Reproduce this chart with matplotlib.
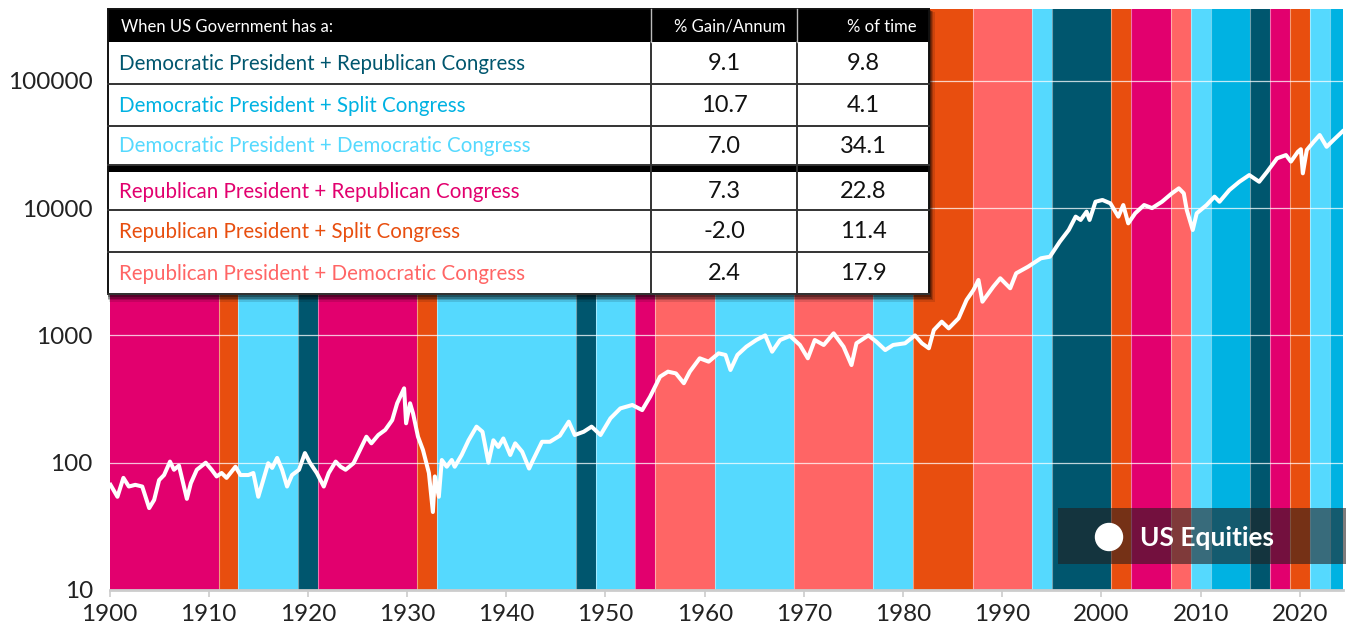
import matplotlib.pyplot as plt
from matplotlib.patches import Rectangle, Circle
from matplotlib.ticker import NullLocator

plt.rcParams['font.family'] = ['Lato', 'DejaVu Sans']

# Government composition by term start (President + Congress)
term_start = [1900, 1911, 1913, 1919, 1921, 1931, 1933, 1947, 1949, 1953, 1955, 1961,
              1969, 1977, 1981, 1987, 1993, 1995, 2001, 2003, 2007, 2009, 2011, 2015,
              2017, 2019, 2021, 2023]
term_type = ['RR', 'RS', 'DD', 'DR', 'RR', 'RS', 'DD', 'DR', 'DD', 'RR', 'RD', 'DD',
             'RD', 'DD', 'RS', 'RD', 'DD', 'DR', 'RS', 'RR', 'RD', 'DD', 'DS', 'DR',
             'RR', 'RS', 'DD', 'DS']
last_year = 2025

band_colors = {'DR': '#00566e', 'DS': '#00b2e2', 'DD': '#55d9fe',
               'RR': '#e2006e', 'RS': '#e84e0f', 'RD': '#ff6565'}

# summary table
table_keys = ['DR', 'DS', 'DD', 'RR', 'RS', 'RD']
table_labels = ['Democratic President + Republican Congress',
                'Democratic President + Split Congress',
                'Democratic President + Democratic Congress',
                'Republican President + Republican Congress',
                'Republican President + Split Congress',
                'Republican President + Democratic Congress']
gain_pa = ['9.1', '10.7', '7.0', '7.3', '-2.0', '2.4']
pct_time = ['9.8', '4.1', '34.1', '22.8', '11.4', '17.9']

# US equities index
eq_year = [1900.1, 1900.8, 1901.4, 1901.95, 1902.6, 1903.3, 1904.0, 1904.5, 1905.0, 1905.5,
           1906.1, 1906.5, 1907.0, 1907.8, 1908.2, 1908.8, 1909.7, 1910.3, 1910.8, 1911.3,
           1911.8, 1912.7, 1913.2, 1914.0, 1914.5, 1915.0, 1915.5, 1916.0, 1916.4, 1916.9,
           1917.4, 1917.9, 1918.4, 1919.1, 1919.7, 1920.2, 1920.9, 1921.6, 1922.1, 1922.8,
           1923.3, 1923.8, 1924.6, 1925.1, 1925.9, 1926.4, 1927.1, 1927.8, 1928.5, 1929.0,
           1929.7, 1929.9, 1930.3, 1930.6, 1931.1, 1931.6, 1932.2, 1932.6, 1932.8, 1933.2,
           1933.5, 1934.0, 1934.5, 1934.8, 1935.5, 1936.2, 1937.0, 1937.6, 1938.2, 1938.7,
           1939.2, 1939.7, 1940.4, 1940.9, 1941.6, 1942.3, 1942.7, 1943.6, 1944.4, 1945.4,
           1946.3, 1946.9, 1947.8, 1948.6, 1949.5, 1950.5, 1951.5, 1952.7, 1953.7, 1954.5,
           1955.5, 1956.3, 1957.1, 1957.9, 1958.5, 1959.5, 1960.4, 1961.4, 1962.1, 1962.6,
           1963.3, 1964.2, 1965.2, 1966.1, 1966.8, 1967.6, 1968.6, 1969.6, 1970.4, 1971.1,
           1972.0, 1973.0, 1974.0, 1974.8, 1975.3, 1976.5, 1977.3, 1978.2, 1979.0, 1980.2,
           1981.2, 1981.9, 1982.6, 1983.1, 1983.9, 1984.6, 1985.6, 1986.4, 1987.1, 1987.6,
           1988.0, 1989.1, 1989.8, 1990.8, 1991.4, 1992.6, 1993.9, 1994.8, 1995.8, 1996.7,
           1997.4, 1997.9, 1998.5, 1998.8, 1999.4, 2000.1, 2000.9, 2001.7, 2002.2, 2002.7,
           2003.4, 2004.3, 2005.1, 2006.1, 2007.1, 2007.8, 2008.3, 2008.6, 2009.2, 2009.6,
           2010.6, 2011.4, 2011.9, 2012.9, 2013.9, 2014.9, 2015.9, 2016.7, 2017.7, 2018.6,
           2019.1, 2019.8, 2020.1, 2020.3, 2020.7, 2021.4, 2022.0, 2022.7, 2023.4, 2024.1,
           2024.3]
eq_value = [67, 54, 76, 65, 67, 65, 44, 51, 73, 80,
            102, 88, 95, 52, 69, 88, 100, 88, 78, 83,
            76, 93, 80, 80, 83, 54, 73, 99, 91, 109,
            88, 65, 80, 88, 119, 100, 83, 65, 83, 102,
            93, 88, 99, 119, 160, 142, 165, 181, 216, 293,
            384, 204, 293, 244, 160, 126, 83, 41, 78, 54,
            105, 93, 105, 93, 115, 150, 192, 175, 100, 150,
            133, 155, 115, 142, 122, 90, 105, 146, 146, 163,
            210, 165, 175, 192, 165, 223, 267, 284, 259, 330,
            474, 519, 503, 421, 519, 661, 622, 723, 702, 535,
            702, 815, 920, 1000, 745, 920, 990, 841, 661, 920,
            841, 1038, 815, 585, 867, 1000, 893, 767, 841, 867,
            1000, 867, 792, 1101, 1281, 1136, 1363, 1897, 2275, 2725,
            1840, 2415, 2810, 2345, 3075, 3465, 4035, 4150, 5445, 6730,
            8570, 8070, 9380, 8070, 11220, 11580, 10900, 8570, 10570, 7590,
            9100, 10570, 10000, 11220, 13060, 14300, 13060, 9660, 6730, 9100,
            10570, 12300, 11220, 13870, 16100, 18180, 16100, 19300, 24600, 26100,
            23200, 27700, 29000, 18760, 28600, 33250, 37500, 30300, 34300, 38600,
            40000]

W, H = 1346, 630
fig = plt.figure(figsize=(W / 100, H / 100), dpi=100)
ax = fig.add_axes([109.5 / W, 1 - 590 / H, (1343 - 109.5) / W, (590 - 9) / H])

# coloured bands
term_end = term_start[1:] + [last_year]
for s, e, k in zip(term_start, term_end, term_type):
    ax.axvspan(s, e, color=band_colors[k], lw=0, zorder=0)
for s in term_start[1:]:
    ax.axvline(s, color='white', lw=0.8, alpha=0.45, zorder=1)

ax.plot(eq_year, eq_value, color='white', lw=2.9, solid_joinstyle='round', zorder=3)

ax.set_yscale('log')
ax.set_xlim(1900, 2024.35)
ax.set_ylim(10, 10 ** (1 + 581 / 127.3))
ax.set_yticks([10, 100, 1000, 10000, 100000])
ax.set_yticklabels(['10', '100', '1000', '10000', '100000'])
ax.yaxis.set_minor_locator(NullLocator())
ax.set_xticks(range(1900, 2021, 10))
ax.grid(axis='y', color='white', lw=0.9, alpha=0.75)

ax.tick_params(axis='y', length=0, pad=12, labelsize=17.5, labelcolor='#222222')
ax.tick_params(axis='x', length=5, width=1.2, color='#cccccc', pad=5,
               labelsize=17.5, labelcolor='#222222')
for side in ['top', 'right', 'left']:
    ax.spines[side].set_visible(False)
ax.spines['bottom'].set_color('#cccccc')
ax.spines['bottom'].set_linewidth(2)

# overlay in pixel coordinates for table and legend
ov = fig.add_axes([0, 0, 1, 1], zorder=5)
ov.set_xlim(0, W)
ov.set_ylim(H, 0)
ov.axis('off')

x0, x1, x2, x3 = 108, 651, 797, 929
top, head_bot, bottom = 9, 42, 294
row_edges = [(42, 83.5), (83.5, 126), (126, 164.5), (171.5, 210), (210, 252), (252, 294)]

for off, a in [(5, 0.12), (4, 0.18), (3, 0.25), (2, 0.3)]:
    ov.add_patch(Rectangle((x0 - 1 + off * 0.3, top + off * 0.5), x3 - x0 + off, bottom - top + off,
                           color='black', alpha=a, lw=0))
ov.add_patch(Rectangle((x0, top), x3 - x0, bottom - top, facecolor='white', lw=0))
ov.add_patch(Rectangle((x0, top), x3 - x0, head_bot - top, facecolor='black', lw=0))
ov.add_patch(Rectangle((x0, 164.5), x3 - x0, 7, facecolor='black', lw=0))
for ya, yb in row_edges:
    ov.plot([x0, x3], [yb, yb], color='#333333', lw=1.4)
for xv in [x1, x2]:
    ov.plot([xv, xv], [head_bot, bottom], color='#333333', lw=1.4)
    ov.plot([xv, xv], [top, head_bot], color='#bbbbbb', lw=1.0)
ov.add_patch(Rectangle((x0, top), x3 - x0, bottom - top, fill=False, edgecolor='#111111', lw=1.4))

ov.text(121, (top + head_bot) / 2 + 1, 'When US Government has a:', color='white',
        fontsize=12, va='center', ha='left')
ov.text(x2 - 11, (top + head_bot) / 2 + 1, '% Gain/Annum', color='white',
        fontsize=12, va='center', ha='right')
ov.text(x3 - 12, (top + head_bot) / 2 + 1, '% of time', color='white',
        fontsize=12, va='center', ha='right')

for (ya, yb), k, lab, g, t in zip(row_edges, table_keys, table_labels, gain_pa, pct_time):
    yc = (ya + yb) / 2 + 1
    ov.text(119, yc, lab, color=band_colors[k], fontsize=14.8, va='center', ha='left')
    ov.text((x1 + x2) / 2, yc, g, color='#111111', fontsize=17, va='center', ha='center')
    ov.text((x2 + x3) / 2, yc, t, color='#111111', fontsize=17, va='center', ha='center')

# legend box
ov.add_patch(Rectangle((1058, 508), W - 1058, 56, facecolor='#231c1c', alpha=0.58, lw=0))
ov.add_patch(Circle((1109, 537), 13.5, color='white'))
ov.text(1140, 538, 'US Equities', color='white', fontsize=19, fontweight='bold',
        va='center', ha='left')

fig.savefig('out.png', dpi=100)
